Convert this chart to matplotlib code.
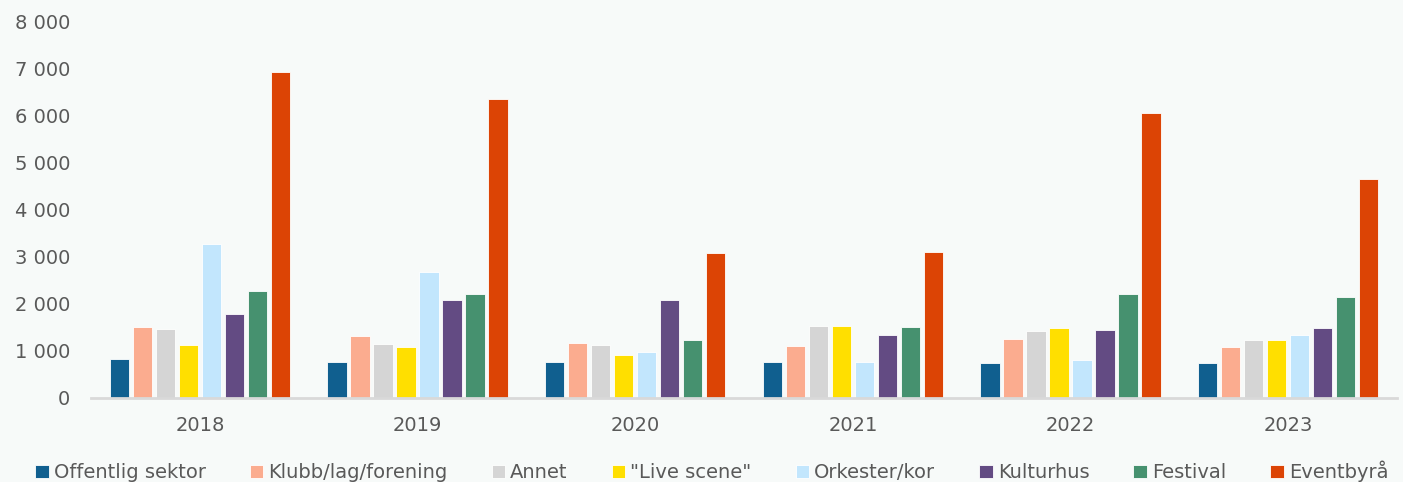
import matplotlib
matplotlib.use("Agg")
import matplotlib.pyplot as plt
import numpy as np
from matplotlib.ticker import FuncFormatter

years = ["2018", "2019", "2020", "2021", "2022", "2023"]
series_names = ["Offentlig sektor", "Klubb/lag/forening", "Annet", '"Live scene"',
                "Orkester/kor", "Kulturhus", "Festival", "Eventbyrå"]
offentlig = [820, 755, 775, 760, 740, 740]
klubb = [1505, 1312, 1170, 1115, 1250, 1085]
annet = [1468, 1157, 1136, 1532, 1419, 1243]
live_scene = [1121, 1094, 923, 1532, 1489, 1228]
orkester = [3277, 2668, 979, 760, 802, 1340]
kulturhus = [1796, 2079, 2079, 1334, 1455, 1498]
festival = [2285, 2221, 1243, 1519, 2206, 2143]
eventbyra = [6930, 6355, 3085, 3094, 6057, 4653]
yticks = [0, 1000, 2000, 3000, 4000, 5000, 6000, 7000, 8000]

values = [offentlig, klubb, annet, live_scene, orkester, kulturhus, festival, eventbyra]
colors = ["#105f8f", "#fbac8f", "#d5d5d5", "#ffdf00", "#c2e6fd", "#634b83", "#46916f", "#dc4405"]

plt.rcParams['font.family'] = ['DejaVu Sans']
bg = "#f7faf9"
fig = plt.figure(figsize=(14.03, 4.82), dpi=100, facecolor=bg)
ax = fig.add_axes([0.0649, 0.1743, 0.9308, 0.7807], facecolor=bg)

x = np.arange(len(years))
pitch = 0.1057
width = 0.088
for i, (vals, c, name) in enumerate(zip(values, colors, series_names)):
    ax.bar(x + (i - 3.5) * pitch, vals, width=width, color=c, label=name,
           edgecolor="white", linewidth=0.6, zorder=3)

ax.set_xlim(-0.5, len(years) - 0.5)
ax.set_ylim(0, 8000)
ax.set_yticks(yticks)
ax.yaxis.set_major_formatter(FuncFormatter(lambda v, p: f"{int(v):,}".replace(",", " ")))
ax.set_xticks(x)
ax.set_xticklabels(years)
ax.tick_params(axis='both', length=0, labelsize=14, labelcolor="#595959")
ax.tick_params(axis='y', pad=15)
ax.tick_params(axis='x', pad=13)
for s in ["top", "right", "left"]:
    ax.spines[s].set_visible(False)
ax.spines["bottom"].set_color("#d9d9d9")
ax.spines["bottom"].set_linewidth(2)
ax.spines["bottom"].set_zorder(4)

leg = fig.legend(loc="center left", bbox_to_anchor=(0.025, 0.022), ncol=8, frameon=False,
                 fontsize=14, handlelength=0.7, handleheight=0.7, handletextpad=0.25,
                 columnspacing=2.27, borderaxespad=0, borderpad=0)
for t in leg.get_texts():
    t.set_color("#595959")

fig.savefig("out.png", dpi=100, facecolor=bg)
